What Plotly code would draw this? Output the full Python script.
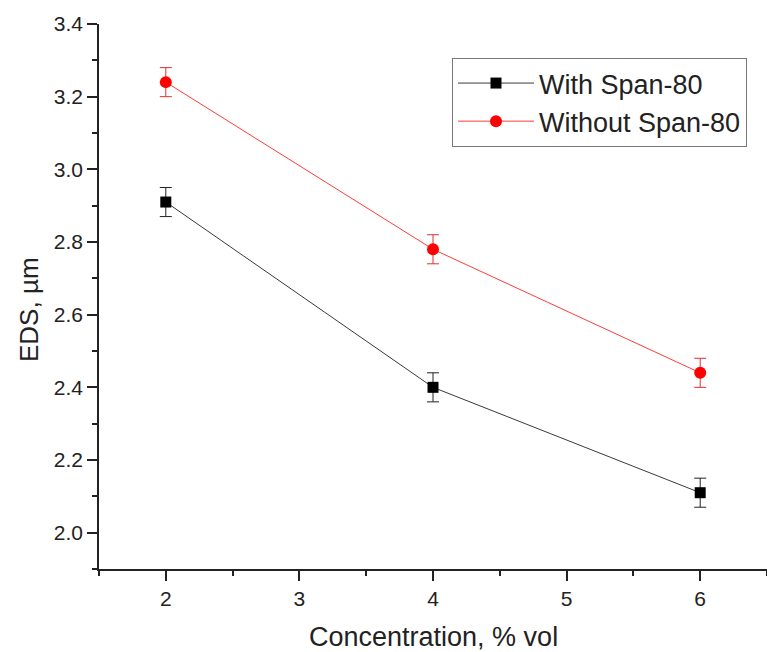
import plotly.graph_objects as go

conc = [2, 4, 6]
with_span = [2.91, 2.40, 2.11]
with_err = [0.04, 0.04, 0.04]
without_span = [3.24, 2.78, 2.44]
without_err = [0.04, 0.04, 0.04]
names = ["With Span-80", "Without Span-80"]
x_title = "Concentration, % vol"
y_title = "EDS, µm"

FONT = "Liberation Sans, Arial, sans-serif"

fig = go.Figure()
fig.add_trace(go.Scatter(
    x=conc, y=with_span, name=names[0], mode="lines+markers",
    line=dict(color="#3a3a3a", width=1),
    marker=dict(symbol="square", size=11, color="black"),
    error_y=dict(type="data", array=with_err, color="#222222", thickness=1, width=6),
))
fig.add_trace(go.Scatter(
    x=conc, y=without_span, name=names[1], mode="lines+markers",
    line=dict(color="#ff3b3b", width=1),
    marker=dict(symbol="circle", size=12, color="#ff0000"),
    error_y=dict(type="data", array=without_err, color="#e03030", thickness=1, width=6),
))

W, H = 767, 652
L, R, T, B = 99, 0, 24, 83
pw, ph = W - L - R, H - T - B

def px_x(px):
    return (px - L) / pw

def px_y(py):
    return (H - B - py) / ph

axis_common = dict(
    showline=True, linecolor="#222222", linewidth=1.5,
    showgrid=False, zeroline=False,
    ticks="outside", ticklen=10, tickwidth=1.5, tickcolor="#222222",
    tickfont=dict(family=FONT, size=21, color="#222222"),
    minor=dict(ticks="outside", ticklen=5, tickwidth=1.5, tickcolor="#222222", showgrid=False),
)

fig.update_layout(
    width=W, height=H,
    margin=dict(l=L, r=R, t=T, b=B, pad=0),
    paper_bgcolor="white", plot_bgcolor="white",
    font=dict(family=FONT, color="#222222"),
    xaxis=dict(range=[1.5, 6.5], tick0=2, dtick=1, minor_dtick=0.5, **axis_common),
    yaxis=dict(range=[1.9, 3.4], tick0=2.0, dtick=0.2, tickformat=".1f", minor_dtick=0.1, **axis_common),
    showlegend=True,
    legend=dict(
        x=px_x(452), y=px_y(58), xanchor="left", yanchor="top",
        bgcolor="white", bordercolor="#777777", borderwidth=1,
        font=dict(family=FONT, size=27, color="#222222"),
        itemwidth=76, tracegroupgap=0,
    ),
    annotations=[
        dict(text=x_title, xref="paper", yref="paper", x=px_x(433), y=px_y(637),
             xanchor="center", yanchor="middle", showarrow=False,
             font=dict(family=FONT, size=27, color="#222222")),
        dict(text=y_title, xref="paper", yref="paper", x=px_x(29), y=px_y(310),
             xanchor="center", yanchor="middle", showarrow=False, textangle=-90,
             font=dict(family=FONT, size=26, color="#222222")),
    ],
)

fig.write_html("out.html")
